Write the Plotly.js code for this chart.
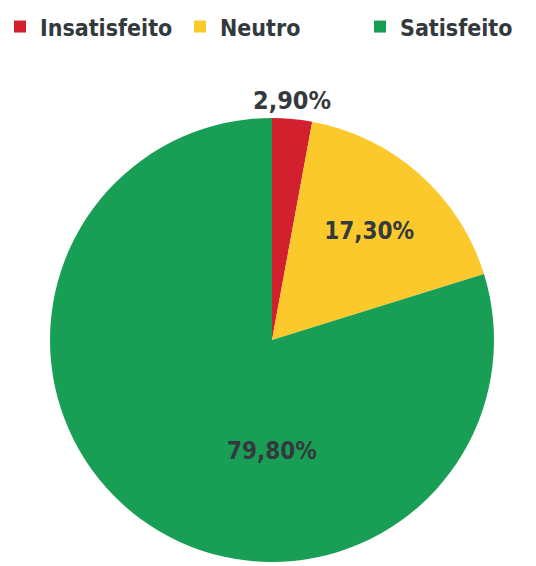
<!DOCTYPE html>
<html>
<head>
<meta charset="utf-8">
<script src="https://cdn.plot.ly/plotly-3.0.1.min.js"></script>
<style>html,body{margin:0;padding:0;background:#fff;}#chart{width:536px;height:566px;}</style>
</head>
<body>
<div id="chart"></div>
<script>
const categories = ['Insatisfeito', 'Neutro', 'Satisfeito'];
const values = [2.9, 17.3, 79.8];
const colors = ['#D3202E', '#FCC92D', '#199E55'];

const FONT = '"DejaVu Sans Condensed", "Liberation Sans Narrow", sans-serif';
const TEXTCOLOR = '#333a3d';
const total = values.reduce((a, b) => a + b, 0);

const W = 536, H = 566;
const domX = [50 / W, 494 / W];
const domY = [4 / H, 448 / H];

// main pie: slices, legend and the label of the middle slice
const mainTrace = {
  type: 'pie',
  labels: categories,
  values: values,
  domain: {x: domX, y: domY},
  marker: {colors: colors, line: {width: 0}},
  sort: false,
  direction: 'clockwise',
  rotation: 0,
  texttemplate: values.map((v, i) => i === 1 ? '<b>%{value:.2f}%</b>' : ''),
  textposition: 'inside',
  insidetextorientation: 'horizontal',
  textfont: {family: FONT, size: 24, color: TEXTCOLOR},
  hoverinfo: 'none'
};

// transparent copy rotated so the largest slice's label sits straight below the centre
const bigStart = (values[0] + values[1]) / total * 360;
const bigMid = bigStart + values[2] / total * 180;
const labelTrace = {
  type: 'pie',
  labels: categories,
  values: values,
  domain: {x: domX, y: domY},
  marker: {colors: ['rgba(0,0,0,0)', 'rgba(0,0,0,0)', 'rgba(0,0,0,0)'], line: {width: 0}},
  sort: false,
  direction: 'clockwise',
  rotation: 180 - bigMid,
  texttemplate: values.map((v, i) => i === 2 ? '<b>%{value:.2f}%</b>' : ''),
  textposition: 'inside',
  insidetextorientation: 'horizontal',
  textfont: {family: FONT, size: 24, color: TEXTCOLOR},
  showlegend: false,
  hoverinfo: 'none'
};

// label of the small slice, centred just above its mid angle
const smallMid = values[0] / total * Math.PI;
const cx = (domX[0] + domX[1]) / 2, rx = (domX[1] - domX[0]) / 2;
const cy = (domY[0] + domY[1]) / 2, ry = (domY[1] - domY[0]) / 2;
const smallLabel = {
  text: '<b>' + values[0].toFixed(2).replace('.', ',') + '%</b>',
  xref: 'paper', yref: 'paper',
  x: cx + rx * Math.sin(smallMid),
  y: cy + ry * Math.cos(smallMid) + 0.003,
  xanchor: 'center', yanchor: 'bottom',
  showarrow: false,
  font: {family: FONT, size: 25, color: TEXTCOLOR}
};

const layout = {
  width: W,
  height: H,
  margin: {l: 0, r: 0, t: 0, b: 0},
  separators: ',.',
  paper_bgcolor: '#ffffff',
  showlegend: true,
  annotations: [smallLabel],
  legend: {
    orientation: 'h',
    x: 0, xanchor: 'left',
    y: 0.991, yanchor: 'top',
    entrywidth: 135,
    font: {family: FONT, size: 23, color: TEXTCOLOR, weight: 'bold'},
    itemclick: false
  }
};

Plotly.newPlot('chart', [mainTrace, labelTrace], layout, {displayModeBar: false, staticPlot: true});
</script>
</body>
</html>
